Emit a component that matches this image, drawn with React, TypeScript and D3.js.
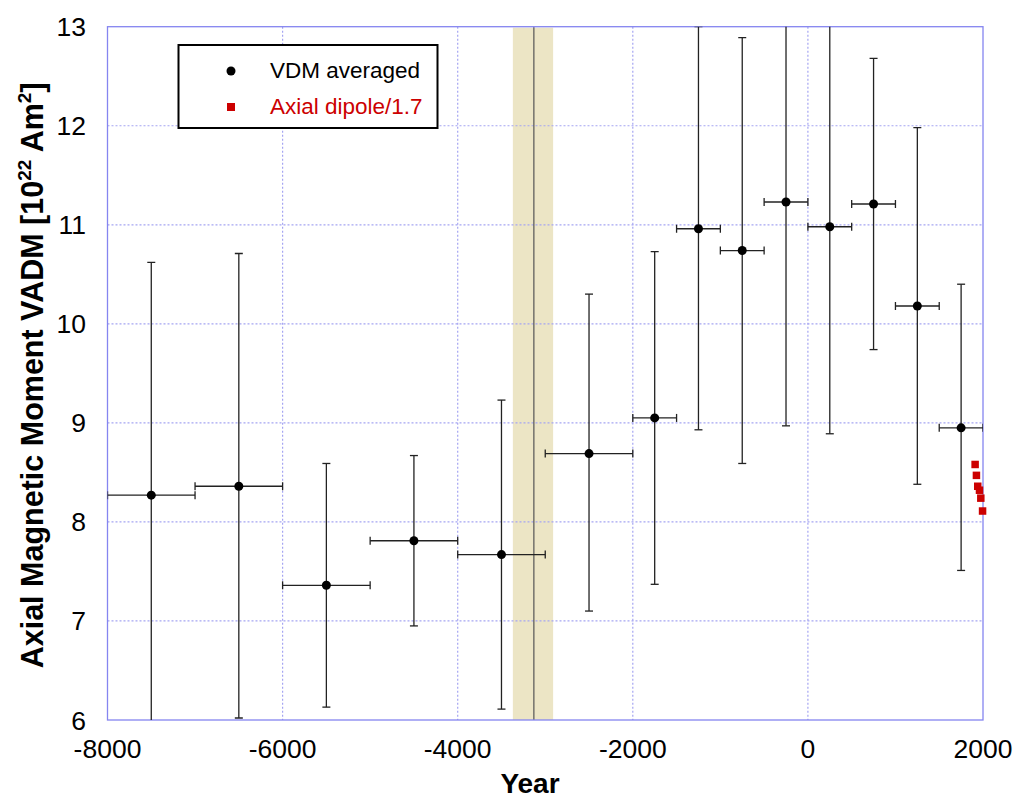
import React, { useEffect, useRef } from 'react';
import * as d3 from 'd3';

// VDM averaged: centre year, half-width of the bin, mean, low/high error ends
const years = [-7500, -6500, -5500, -4500, -3500, -2500, -1750, -1250, -750, -250, 250, 750, 1250, 1750];
const halfWidths = [500, 500, 500, 500, 500, 500, 250, 250, 250, 250, 250, 250, 250, 250];
const vadm = [8.27, 8.36, 7.36, 7.81, 7.67, 8.69, 9.05, 10.96, 10.74, 11.23, 10.98, 11.21, 10.18, 8.95];
const vadmLow = [5.8, 6.02, 6.13, 6.95, 6.11, 7.1, 7.37, 8.93, 8.59, 8.97, 8.89, 9.74, 8.38, 7.51];
const vadmHigh = [10.62, 10.71, 8.59, 8.67, 9.23, 10.3, 10.73, 13.0, 12.89, 13.6, 13.6, 12.68, 11.98, 10.4];

// Axial dipole / 1.7
const dipoleYears = [1910, 1925, 1940, 1960, 1975, 1995];
const dipoleValues = [8.58, 8.47, 8.36, 8.32, 8.24, 8.11];

// shaded interval and marker line
const bandYears = [-3370, -2910];
const markerYear = -3130;

const xTicks = [-8000, -6000, -4000, -2000, 0, 2000];
const yTicks = [6, 7, 8, 9, 10, 11, 12, 13];

const App: React.FC = () => {
  const svgRef = useRef<SVGSVGElement>(null);

  useEffect(() => {
    if (!svgRef.current) return;
    const W = 1023, H = 810;
    const left = 107.5, right = 983, top = 26.7, bottom = 720;
    const font = 'Liberation Sans, Arial, sans-serif';
    const frame = '#8585f0';

    const svg = d3.select(svgRef.current);
    svg.selectAll('*').remove();
    svg.attr('width', W).attr('height', H);

    const x = d3.scaleLinear().domain([-8000, 2000]).range([left, right]);
    const y = d3.scaleLinear().domain([6, 13]).range([bottom, top]);

    svg.append('defs').append('clipPath').attr('id', 'plot-clip')
      .append('rect').attr('x', left).attr('y', top)
      .attr('width', right - left).attr('height', bottom - top);

    // shaded band
    svg.append('rect')
      .attr('x', x(bandYears[0])).attr('y', top + 1)
      .attr('width', x(bandYears[1]) - x(bandYears[0]))
      .attr('height', bottom - top - 1)
      .attr('fill', '#ece5c5');

    // grid
    const grid = svg.append('g').attr('stroke', '#a5a5f2').attr('stroke-width', 1.2)
      .attr('stroke-dasharray', '2,2');
    grid.selectAll('.gx').data(xTicks.slice(1, -1)).enter().append('line')
      .attr('x1', d => x(d)).attr('x2', d => x(d)).attr('y1', top).attr('y2', bottom);
    grid.selectAll('.gy').data(yTicks.slice(1, -1)).enter().append('line')
      .attr('x1', left).attr('x2', right).attr('y1', d => y(d)).attr('y2', d => y(d));

    // marker line
    svg.append('line')
      .attr('x1', x(markerYear)).attr('x2', x(markerYear))
      .attr('y1', top).attr('y2', bottom)
      .attr('stroke', '#555').attr('stroke-width', 1.2);

    // frame
    svg.append('rect')
      .attr('x', left).attr('y', top).attr('width', right - left).attr('height', bottom - top)
      .attr('fill', 'none').attr('stroke', frame).attr('stroke-width', 1.3);

    const idx = d3.range(years.length);
    const bars = svg.append('g').attr('clip-path', 'url(#plot-clip)')
      .attr('stroke', '#222').attr('stroke-width', 1.3).attr('fill', 'none');
    const cap = 4;

    // vertical error bars
    bars.selectAll('.ev').data(idx).enter().append('line')
      .attr('x1', i => x(years[i])).attr('x2', i => x(years[i]))
      .attr('y1', i => y(vadmLow[i])).attr('y2', i => y(vadmHigh[i]));
    bars.selectAll('.evl').data(idx).enter().append('line')
      .attr('x1', i => x(years[i]) - cap).attr('x2', i => x(years[i]) + cap)
      .attr('y1', i => y(vadmLow[i])).attr('y2', i => y(vadmLow[i]));
    bars.selectAll('.evh').data(idx).enter().append('line')
      .attr('x1', i => x(years[i]) - cap).attr('x2', i => x(years[i]) + cap)
      .attr('y1', i => y(vadmHigh[i])).attr('y2', i => y(vadmHigh[i]));

    // horizontal error bars
    bars.selectAll('.eh').data(idx).enter().append('line')
      .attr('x1', i => x(years[i] - halfWidths[i])).attr('x2', i => x(years[i] + halfWidths[i]))
      .attr('y1', i => y(vadm[i])).attr('y2', i => y(vadm[i]));
    bars.selectAll('.ehl').data(idx).enter().append('line')
      .attr('x1', i => x(years[i] - halfWidths[i])).attr('x2', i => x(years[i] - halfWidths[i]))
      .attr('y1', i => y(vadm[i]) - cap).attr('y2', i => y(vadm[i]) + cap);
    bars.selectAll('.ehr').data(idx).enter().append('line')
      .attr('x1', i => x(years[i] + halfWidths[i])).attr('x2', i => x(years[i] + halfWidths[i]))
      .attr('y1', i => y(vadm[i]) - cap).attr('y2', i => y(vadm[i]) + cap);

    // points
    svg.append('g').selectAll('circle').data(idx).enter().append('circle')
      .attr('cx', i => x(years[i])).attr('cy', i => y(vadm[i]))
      .attr('r', 4.5).attr('fill', '#000');

    svg.append('g').selectAll('rect').data(d3.range(dipoleYears.length)).enter().append('rect')
      .attr('x', i => x(dipoleYears[i]) - 3.75).attr('y', i => y(dipoleValues[i]) - 3.75)
      .attr('width', 7.5).attr('height', 7.5).attr('fill', '#cc0000');

    // tick labels
    svg.append('g').selectAll('text').data(xTicks).enter().append('text')
      .attr('x', d => x(d)).attr('y', 758)
      .attr('text-anchor', 'middle').attr('font-family', font).attr('font-size', 26.5)
      .text(d => String(d));
    svg.append('g').selectAll('text').data(yTicks).enter().append('text')
      .attr('x', 86).attr('y', d => y(d) + 9.5)
      .attr('text-anchor', 'end').attr('font-family', font).attr('font-size', 26.5)
      .text(d => String(d));

    // axis titles
    svg.append('text')
      .attr('x', 530).attr('y', 793)
      .attr('text-anchor', 'middle').attr('font-family', font).attr('font-size', 28)
      .attr('font-weight', 'bold').text('Year');

    const yt = svg.append('text')
      .attr('transform', `translate(43,${(top + bottom) / 2 + 2}) rotate(-90)`)
      .attr('text-anchor', 'middle').attr('font-family', font).attr('font-size', 30.5)
      .attr('font-weight', 'bold');
    yt.append('tspan').text('Axial Magnetic Moment VADM [10');
    yt.append('tspan').attr('font-size', 19).attr('dy', -12).text('22');
    yt.append('tspan').attr('dy', 12).text(' Am');
    yt.append('tspan').attr('font-size', 19).attr('dy', -12).text('2');
    yt.append('tspan').attr('dy', 12).text(']');

    // legend
    const lg = svg.append('g');
    lg.append('rect').attr('x', 178.5).attr('y', 45).attr('width', 259).attr('height', 83)
      .attr('fill', '#fff').attr('stroke', '#000').attr('stroke-width', 2);
    lg.append('circle').attr('cx', 231).attr('cy', 71).attr('r', 4.5).attr('fill', '#000');
    lg.append('text').attr('x', 270).attr('y', 78).attr('font-family', font).attr('font-size', 22.5)
      .attr('fill', '#000').text('VDM averaged');
    lg.append('rect').attr('x', 227).attr('y', 103).attr('width', 8).attr('height', 8)
      .attr('fill', '#cc0000');
    lg.append('text').attr('x', 270).attr('y', 114).attr('font-family', font).attr('font-size', 22.5)
      .attr('fill', '#cc0000').text('Axial dipole/1.7');
  }, []);

  return (
    <svg ref={svgRef} style={{ position: 'absolute', left: 0, top: 0, background: '#fff' }} />
  );
};

export default App;
